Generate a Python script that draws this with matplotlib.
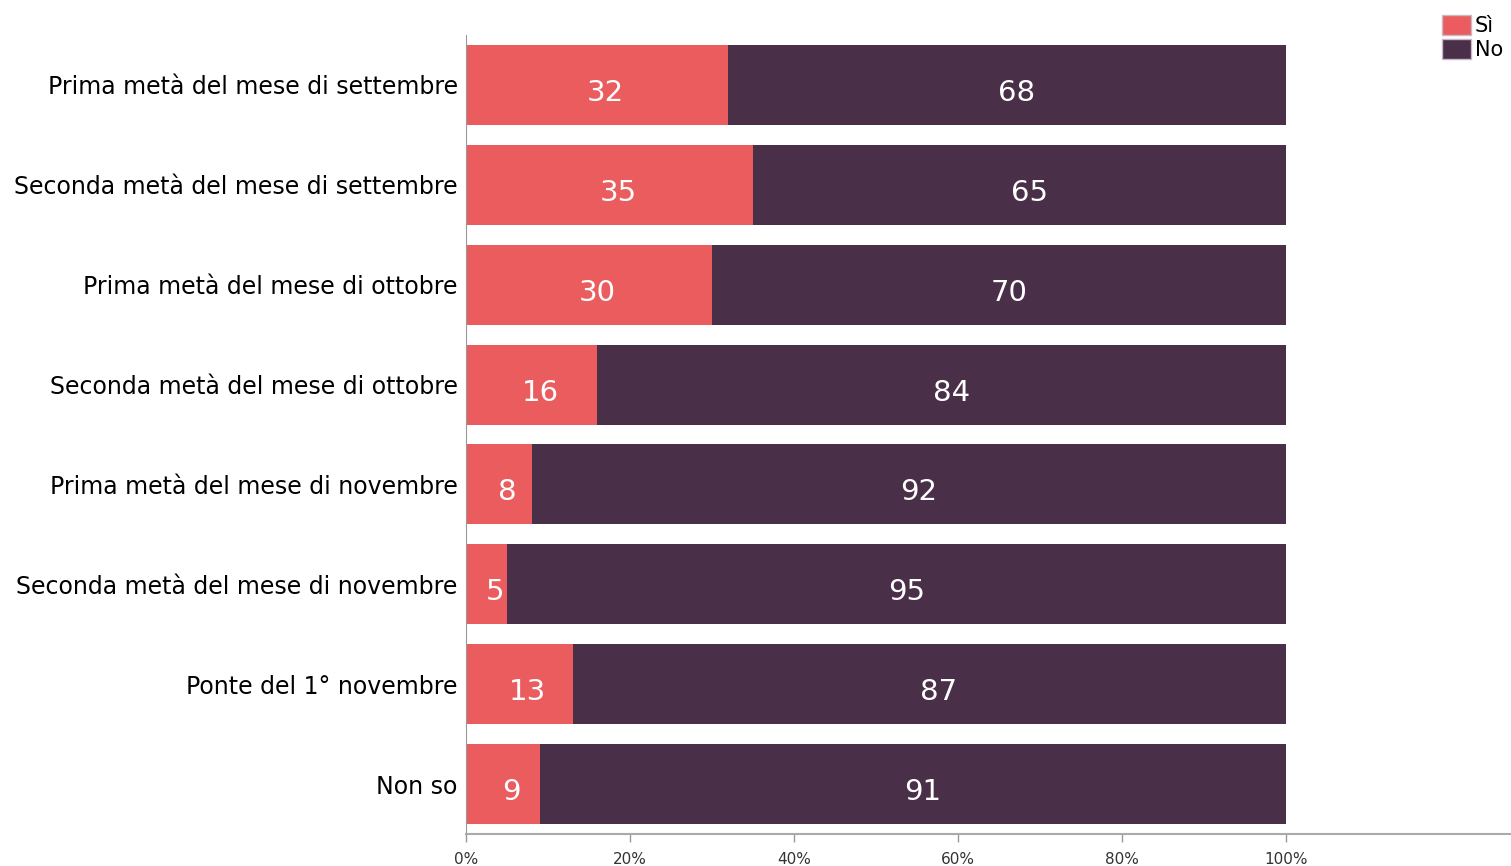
import matplotlib
matplotlib.use("Agg")
import matplotlib.pyplot as plt
from matplotlib.patches import Patch

categories = [
    "Prima metà del mese di settembre",
    "Seconda metà del mese di settembre",
    "Prima metà del mese di ottobre",
    "Seconda metà del mese di ottobre",
    "Prima metà del mese di novembre",
    "Seconda metà del mese di novembre",
    "Ponte del 1° novembre",
    "Non so",
]
si = [32, 35, 30, 16, 8, 5, 13, 9]
no = [68, 65, 70, 84, 92, 95, 87, 91]
series_names = ["Sì", "No"]
colors = ["#EB5C5F", "#4A2F48"]
xticks = [0, 20, 40, 60, 80, 100]

W, H = 1511, 866
fig = plt.figure(figsize=(W / 100, H / 100), dpi=100)
ax = fig.add_axes([466 / W, 1 - 834 / H, (1511 - 466) / W, (834 - 35) / H])

y = list(range(len(categories)))
ax.barh(y, si, height=0.8, color=colors[0], edgecolor="none")
ax.barh(y, no, left=si, height=0.8, color=colors[1], edgecolor="none")

for i in y:
    ax.annotate(str(si[i]), (si[i] / 2, i + 0.08), xytext=(6, 0),
                textcoords="offset points", color="white", fontsize=21,
                ha="center", va="center")
    ax.annotate(str(no[i]), (si[i] + no[i] / 2, i + 0.08), xytext=(7, 0),
                textcoords="offset points", color="white", fontsize=21,
                ha="center", va="center")

ax.set_ylim(len(categories) - 0.5, -0.5)
ax.set_xlim(0, 100 * (1511 - 466) / 820)
ax.set_yticks(y)
ax.set_yticklabels(categories, fontsize=17)
ax.tick_params(axis="y", length=0, pad=6)
ax.set_xticks(xticks)
ax.set_xticklabels([f"{t}%" for t in xticks], fontsize=11, color="#333333")
ax.tick_params(axis="x", length=6, width=1, color="#999999", pad=7)
for s in ["top", "right"]:
    ax.spines[s].set_visible(False)
ax.spines["left"].set_color("#999999")
ax.spines["bottom"].set_color("#aaaaaa")
ax.spines["bottom"].set_linewidth(1.5)

handles = [Patch(facecolor=colors[0], edgecolor="#c8b8c8", label=series_names[0]),
           Patch(facecolor=colors[1], edgecolor="#c8b8c8", label=series_names[1])]
fig.legend(handles=handles, loc="upper left", bbox_to_anchor=(1427 / W, 1 - 0 / H),
           frameon=False, fontsize=15, handlelength=1.4, handleheight=1.1,
           handletextpad=0.2, labelspacing=0.15, borderpad=0.2)

fig.savefig("out.png", dpi=100)
